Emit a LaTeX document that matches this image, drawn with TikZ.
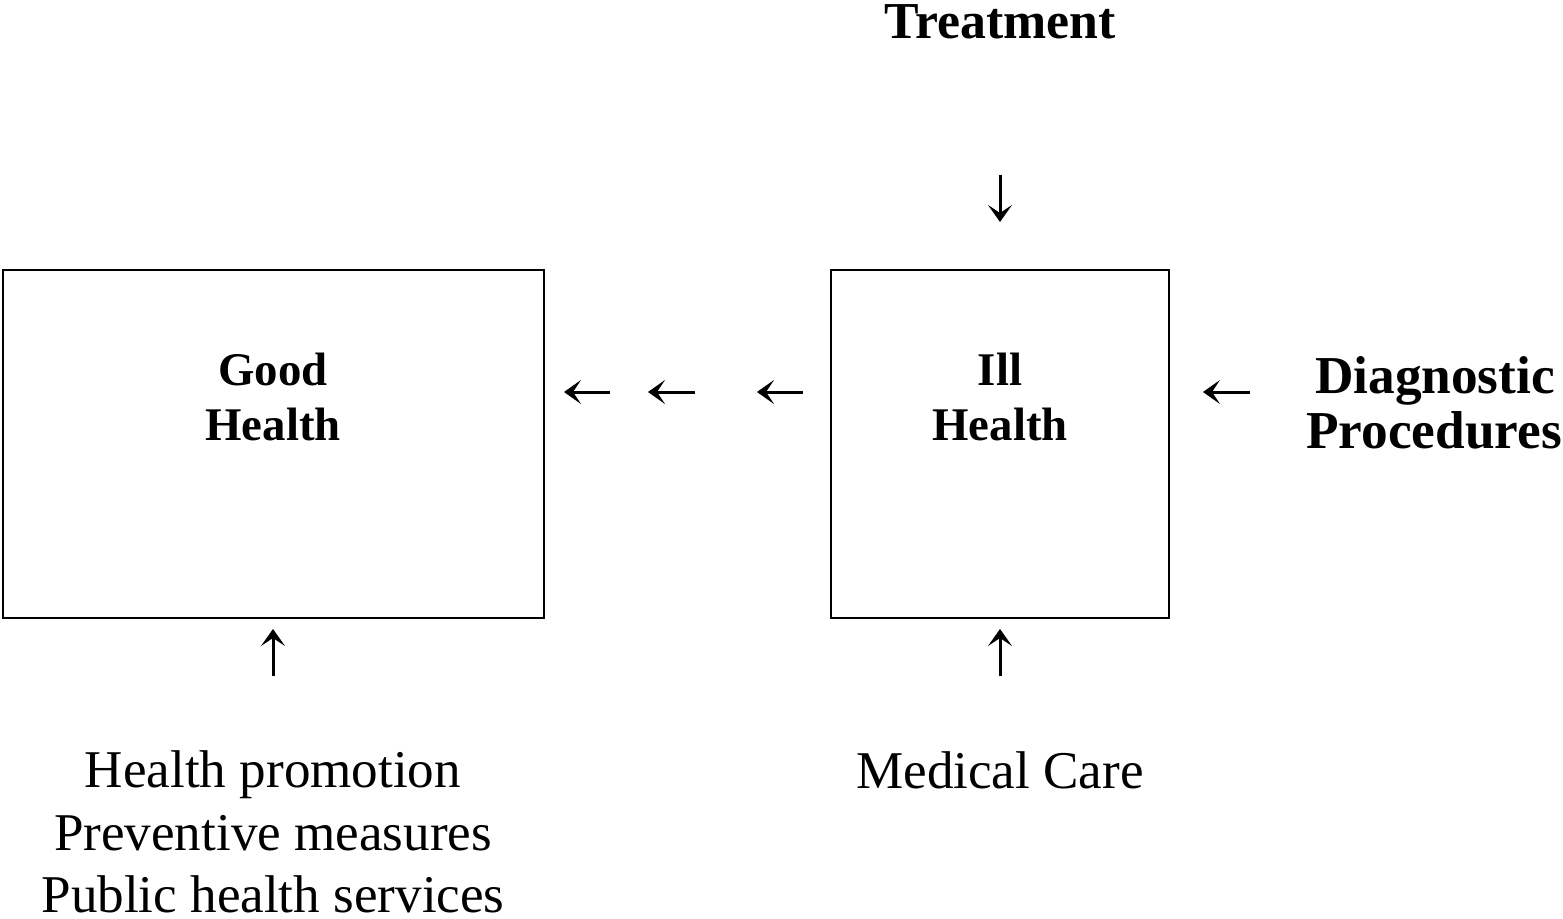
\documentclass[tikz,border=0pt]{standalone}
\usepackage{fontspec}
\setmainfont{Liberation Serif}
\usetikzlibrary{arrows.meta}
\begin{document}
\begin{tikzpicture}[x=1bp,y=-1bp,
  box/.style={draw=black,line width=2.2bp,minimum width=#1,inner sep=0pt},
  lbl/.style={anchor=base,inner sep=0pt},
  boxfont/.style={font=\fontsize{47}{56}\selectfont\bfseries},
  bigbold/.style={font=\fontsize{53.5}{62}\selectfont\bfseries},
  reg/.style={font=\fontsize{53.3}{62}\selectfont},
  glypharrow/.style={line width=3bp,-{Stealth[length=17bp,width=24bp,inset=8bp]}}]
\useasboundingbox (0,0) rectangle (1563,918);

% boxes
\node[box=541bp,minimum height=348bp] (good) at (273.5,444) {};
\node[box=338bp,minimum height=348bp] (ill) at (1000,444) {};

% box texts
\node[lbl,boxfont] (good1) at (273,385) {Good};
\node[lbl,boxfont] (good2) at (273,440) {Health};
\node[lbl,boxfont] (ill1) at (1000,385) {Ill};
\node[lbl,boxfont] (ill2) at (1000,440) {Health};

% top label
\node[lbl,font=\fontsize{52}{60}\selectfont\bfseries] (treat) at (1000,38) {Treatment};

% right label
\node[lbl,bigbold] (diag1) at (1435,393) {Diagnostic};
\node[lbl,bigbold] (diag2) at (1434,448) {Procedures};

% bottom labels
\node[lbl,reg] (hp1) at (273,787) {Health promotion};
\node[lbl,reg] (hp2) at (273,850) {Preventive measures};
\node[lbl,reg] (hp3) at (273,912) {Public health services};
\node[lbl,reg] (mc) at (1000,788) {Medical Care};

% arrow coordinates
\coordinate (a1s) at (610,392); \coordinate (a1e) at (564,392);
\coordinate (a2s) at (695,392); \coordinate (a2e) at (648,392);
\coordinate (a3s) at (803,392); \coordinate (a3e) at (757,392);
\coordinate (a4s) at (1250,392); \coordinate (a4e) at (1203,392);
\coordinate (dts) at (1000,175); \coordinate (dte) at (1000,222);
\coordinate (ugs) at (273,676); \coordinate (uge) at (273,629);
\coordinate (uis) at (1000,676); \coordinate (uie) at (1000,629);

\draw[glypharrow] (a1s) -- (a1e);
\draw[glypharrow] (a2s) -- (a2e);
\draw[glypharrow] (a3s) -- (a3e);
\draw[glypharrow] (a4s) -- (a4e);
\draw[glypharrow] (dts) -- (dte);
\draw[glypharrow] (ugs) -- (uge);
\draw[glypharrow] (uis) -- (uie);
\end{tikzpicture}
\end{document}
